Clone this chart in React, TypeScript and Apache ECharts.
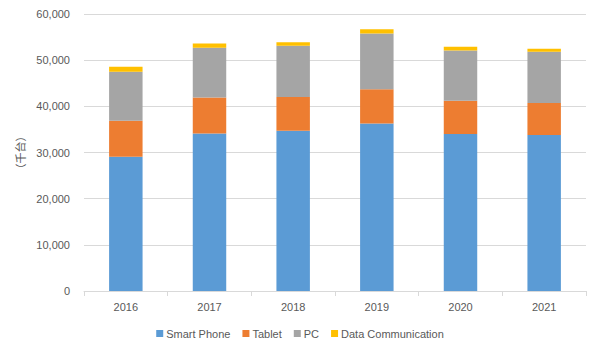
import React, { useEffect, useRef } from "react";
import * as echarts from "echarts";

const categories = ["2016", "2017", "2018", "2019", "2020", "2021"];
const smartPhone = [29100, 34100, 34700, 36300, 34000, 33800];
const tablet = [7800, 7800, 7300, 7400, 7200, 6900];
const pc = [10600, 10800, 11100, 12100, 10900, 11100];
const dataComm = [1100, 900, 800, 900, 800, 700];
const seriesNames = ["Smart Phone", "Tablet", "PC", "Data Communication"];
const colors = ["#5B9BD5", "#ED7D31", "#A5A5A5", "#FFC000"];

export default function App() {
  const ref = useRef<HTMLDivElement>(null);
  useEffect(() => {
    if (!ref.current) return;
    const chart = echarts.init(ref.current, null, { renderer: "svg" });
    const font = "'Liberation Sans', 'Noto Sans CJK SC', sans-serif";
    const values = [smartPhone, tablet, pc, dataComm];
    chart.setOption({
      animation: false,
      textStyle: { fontFamily: font },
      grid: { left: 84, right: 14, top: 14, bottom: 61 },
      legend: {
        data: seriesNames,
        bottom: 8,
        left: "center",
        itemWidth: 7,
        itemHeight: 7,
        itemGap: 12,
        icon: "rect",
        textStyle: { color: "#595959", fontSize: 11, fontFamily: font, padding: [0, 0, 0, -2] },
      },
      xAxis: {
        type: "category",
        data: categories,
        axisLine: { lineStyle: { color: "#D9D9D9" } },
        axisTick: { show: true, length: 5, lineStyle: { color: "#D9D9D9" } },
        axisLabel: { color: "#595959", fontSize: 11, margin: 10 },
      },
      yAxis: {
        type: "value",
        min: 0,
        max: 60000,
        interval: 10000,
        name: "（千台）",
        nameLocation: "middle",
        nameRotate: 90,
        nameGap: 56,
        nameTextStyle: { color: "#595959", fontSize: 11, fontFamily: "'Noto Sans CJK SC', sans-serif" },
        axisLine: { show: false },
        axisTick: { show: false },
        splitLine: { lineStyle: { color: "#D9D9D9" } },
        axisLabel: {
          color: "#595959",
          fontSize: 11,
          margin: 14,
          formatter: (v: number) => v.toLocaleString("en-US"),
        },
      },
      series: seriesNames.map((name, i) => ({
        name,
        type: "bar",
        stack: "total",
        barWidth: "40%",
        data: values[i],
        itemStyle: { color: colors[i] },
      })),
    });
    return () => chart.dispose();
  }, []);
  return <div ref={ref} style={{ width: 600, height: 352, margin: -8 }} />;
}
